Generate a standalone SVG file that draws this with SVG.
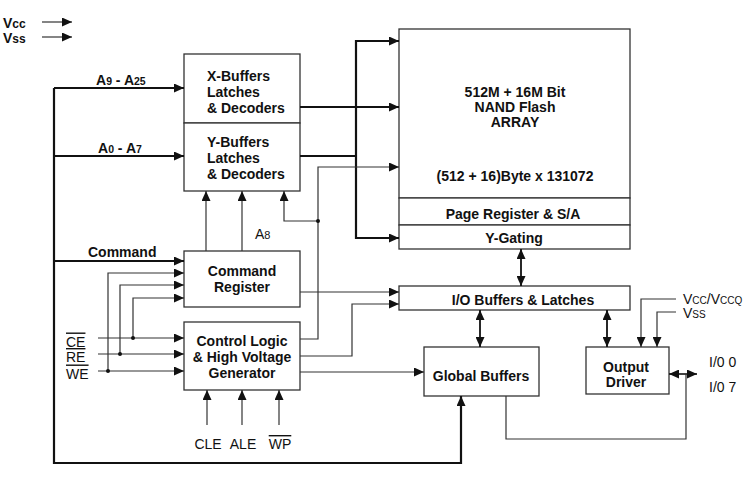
<svg xmlns="http://www.w3.org/2000/svg" width="750" height="479" viewBox="0 0 750 479">
<style>
.box{fill:#fff;stroke:#333;stroke-width:1.3}
.b{font-family:"Liberation Sans",Arial,sans-serif;font-weight:bold;font-size:14px;fill:#111}
.r{font-family:"Liberation Sans",Arial,sans-serif;font-size:14px;fill:#111}
.c{text-anchor:middle}
.thin{fill:none;stroke:#333;stroke-width:1.2}
.thick{fill:none;stroke:#111;stroke-width:2.2}
.ov{text-decoration:overline}
</style>
<defs>
<marker id="ah" markerUnits="userSpaceOnUse" markerWidth="11" markerHeight="9" refX="10" refY="4.5" orient="auto-start-reverse">
<path d="M0,0 L10,4.5 L0,9 z" fill="#111"/>
</marker>
</defs>
<rect width="750" height="479" fill="#fff"/>

<g id="legend">
<text class="b" x="3" y="28">V<tspan font-size="12">cc</tspan></text>
<text class="b" x="3" y="43">V<tspan font-size="12">ss</tspan></text>
</g>

<g id="xbuf">
<rect class="box" x="184" y="54" width="116" height="69"/>
<text class="b" x="207" y="81">X-Buffers</text>
<text class="b" x="207" y="97">Latches</text>
<text class="b" x="207" y="113">&amp; Decoders</text>
</g>
<g id="ybuf">
<rect class="box" x="184" y="123" width="116" height="68"/>
<text class="b" x="207" y="147">Y-Buffers</text>
<text class="b" x="207" y="163">Latches</text>
<text class="b" x="207" y="179">&amp; Decoders</text>
</g>
<g id="array">
<rect class="box" x="399" y="29" width="231" height="169"/>
<text class="b c" x="515" y="97">512M + 16M Bit</text>
<text class="b c" x="515" y="112">NAND Flash</text>
<text class="b c" x="515" y="127">ARRAY</text>
<text class="b c" x="515" y="181">(512 + 16)Byte x 131072</text>
</g>
<g id="pagereg">
<rect class="box" x="399" y="198" width="231" height="27"/>
<text class="b c" x="513" y="219">Page Register &amp; S/A</text>
</g>
<g id="ygating">
<rect class="box" x="399" y="225" width="231" height="24"/>
<text class="b c" x="514" y="243">Y-Gating</text>
</g>
<g id="iobuf">
<rect class="box" x="399" y="286" width="231" height="24"/>
<text class="b c" x="523" y="305">I/O Buffers &amp; Latches</text>
</g>
<g id="cmdreg">
<rect class="box" x="184" y="251" width="116" height="56"/>
<text class="b c" x="242" y="276">Command</text>
<text class="b c" x="242" y="292">Register</text>
</g>
<g id="ctrl">
<rect class="box" x="184" y="322" width="116" height="68"/>
<text class="b c" x="242" y="346">Control Logic</text>
<text class="b c" x="242" y="362">&amp; High Voltage</text>
<text class="b c" x="242" y="378">Generator</text>
</g>
<g id="global">
<rect class="box" x="424" y="347" width="115" height="49"/>
<text class="b c" x="481" y="381">Global Buffers</text>
</g>
<g id="outdrv">
<rect class="box" x="586" y="347" width="83" height="47"/>
<text class="b c" x="626" y="372">Output</text>
<text class="b c" x="626" y="387">Driver</text>
</g>

<g id="labels">
<text class="b" x="96" y="85">A<tspan font-size="10.5">9</tspan> - A<tspan font-size="10.5">25</tspan></text>
<text class="b" x="98" y="153">A<tspan font-size="10.5">0</tspan> - A<tspan font-size="10.5">7</tspan></text>
<text class="b" x="88" y="257">Command</text>
<text class="r" x="255" y="239" font-size="15">A<tspan font-size="11">8</tspan></text>
<text class="r ov" x="66" y="346.5">CE</text>
<text class="r ov" x="66" y="362">RE</text>
<text class="r ov" x="66" y="378.5">WE</text>
<text class="r c" x="208" y="449">CLE</text>
<text class="r c" x="243" y="449">ALE</text>
<text class="r c ov" x="280" y="449">WP</text>
<text class="r" x="683" y="303.5" font-size="13">V<tspan font-size="10">CC</tspan>/V<tspan font-size="10">CCQ</tspan></text>
<text class="r" x="683" y="318" font-size="13">V<tspan font-size="10">SS</tspan></text>
<text class="r" x="709" y="367">I/0 0</text>
<text class="r" x="709" y="392">I/0 7</text>
</g>

<g id="connectors">
<path class="thin" d="M42,22 H72" marker-end="url(#ah)"/>
<path class="thin" d="M42,37 H72" marker-end="url(#ah)"/>
<path class="thick" d="M54,88 H184" marker-end="url(#ah)"/>
<path class="thick" d="M54,88 V463 H461 V396" marker-end="url(#ah)"/>
<path class="thick" d="M54,156 H184" marker-end="url(#ah)"/>
<path class="thick" d="M54,261 H184" marker-end="url(#ah)"/>
<path class="thick" d="M300,107 H399" marker-end="url(#ah)"/>
<path class="thick" d="M300,156 H356"/>
<path class="thick" d="M356,156 V41 H399" marker-end="url(#ah)"/>
<path class="thick" d="M356,156 V238 H399" marker-end="url(#ah)"/>
<path class="thin" d="M300,339 H318 V167 H399" marker-end="url(#ah)"/>
<path class="thin" d="M318,221 H284 V191" marker-end="url(#ah)"/>
<circle cx="318" cy="221" r="2" fill="#111"/>
<path class="thin" d="M206,251 V191" marker-end="url(#ah)"/>
<path class="thin" d="M242,251 V191" marker-end="url(#ah)"/>
<path class="thin" d="M300,292 H399" marker-end="url(#ah)"/>
<path class="thin" d="M300,356 H352 V304 H399" marker-end="url(#ah)"/>
<path class="thin" d="M300,372 H424" marker-end="url(#ah)"/>
<path class="thin" d="M98,338 H184" marker-end="url(#ah)"/>
<path class="thin" d="M98,354 H184" marker-end="url(#ah)"/>
<path class="thin" d="M98,371 H184" marker-end="url(#ah)"/>
<path class="thin" d="M133,338 V298 H184" marker-end="url(#ah)"/>
<path class="thin" d="M120,354 V285 H184" marker-end="url(#ah)"/>
<path class="thin" d="M108,371 V273 H184" marker-end="url(#ah)"/>
<circle cx="133" cy="338" r="2" fill="#111"/>
<circle cx="120" cy="354" r="2" fill="#111"/>
<circle cx="108" cy="371" r="2" fill="#111"/>
<path class="thin" d="M207,425 V390" marker-end="url(#ah)"/>
<path class="thin" d="M242,425 V390" marker-end="url(#ah)"/>
<path class="thin" d="M279,425 V390" marker-end="url(#ah)"/>
<path class="thick" style="stroke-width:1.8" d="M521,249 V286" marker-start="url(#ah)" marker-end="url(#ah)"/>
<path class="thick" style="stroke-width:1.8" d="M480,310 V347" marker-start="url(#ah)" marker-end="url(#ah)"/>
<path class="thick" style="stroke-width:1.8" d="M607,310 V347" marker-start="url(#ah)" marker-end="url(#ah)"/>
<path class="thin" d="M676,299 H641 V347" marker-end="url(#ah)"/>
<path class="thin" d="M676,312 H657 V347" marker-end="url(#ah)"/>
<path class="thick" style="stroke-width:1.6" d="M669,374 H697" marker-start="url(#ah)" marker-end="url(#ah)"/>
<path class="thin" d="M506,396 V439 H686 V374"/>
</g>
</svg>
